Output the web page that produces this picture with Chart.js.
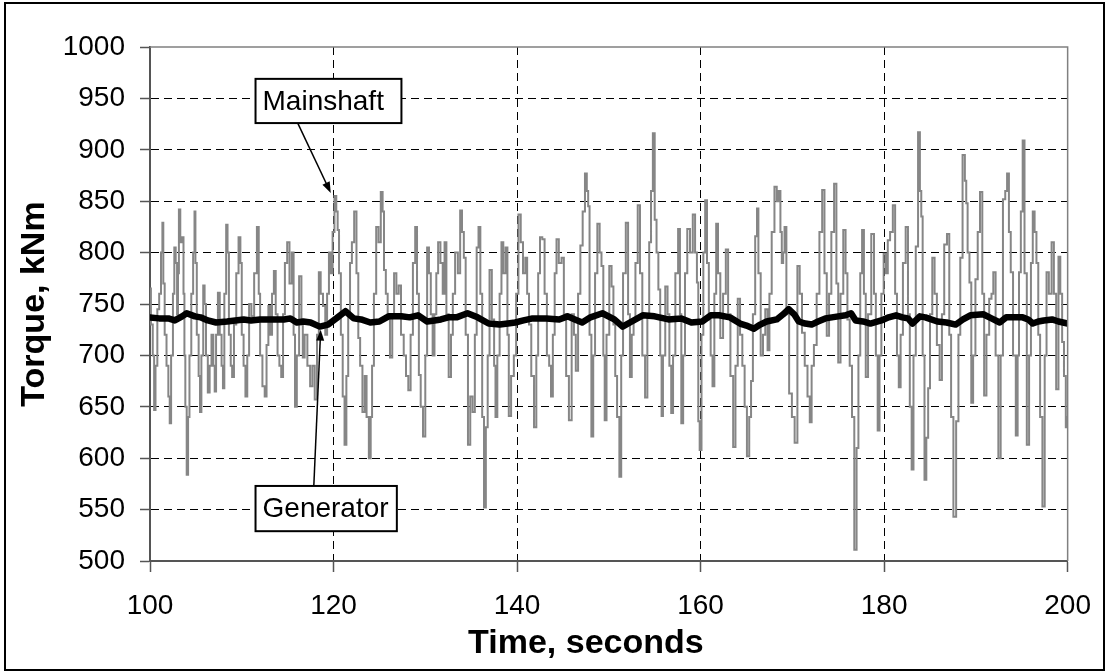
<!DOCTYPE html>
<html>
<head>
<meta charset="utf-8">
<script src="https://cdn.jsdelivr.net/npm/chart.js@4.4.0/dist/chart.umd.min.js"></script>
<style>
	html, body { margin: 0; padding: 0; background: #fff; }
	#chart-torque { display: block; }
</style>
</head>
<body>
<canvas id="chart-torque" width="1108" height="672"></canvas>
<script>
// Axis ranges / ticks
const TIME_MIN = 100, TIME_MAX = 200, TIME_STEP = 20;
const TORQUE_MIN = 500, TORQUE_MAX = 1000, TORQUE_STEP = 50;
const X_TITLE = "Time, seconds";
const Y_TITLE = "Torque, kNm";

// Mainshaft torque, [time s, torque kNm]
const MAINSHAFT = [
	[100.0, 765], [100.2, 730], [100.4, 700], [100.5, 647], [100.7, 690], [100.9, 745], [101.1, 760], [101.3, 800], [101.4, 829], [101.5, 770],
	[101.7, 720], [101.9, 690], [102.1, 660], [102.2, 634], [102.4, 700], [102.6, 760], [102.7, 805], [102.9, 790], [103.0, 740], [103.1, 780],
	[103.2, 842], [103.4, 810], [103.6, 815], [103.7, 760], [103.8, 700], [103.9, 650], [104.1, 584], [104.2, 640], [104.4, 700], [104.6, 760],
	[104.8, 800], [104.9, 840], [105.0, 790], [105.2, 720], [105.4, 680], [105.5, 645], [105.7, 700], [105.9, 768], [106.0, 750], [106.2, 700],
	[106.4, 664], [106.6, 690], [106.8, 720], [107.0, 690], [107.1, 665], [107.3, 720], [107.5, 761], [107.7, 720], [107.9, 690], [108.0, 668],
	[108.2, 760], [108.4, 827], [108.5, 800], [108.7, 720], [108.9, 690], [109.0, 679], [109.3, 730], [109.5, 780], [109.8, 815], [109.9, 790],
	[110.1, 720], [110.3, 690], [110.5, 660], [110.7, 700], [110.9, 750], [111.2, 738], [111.5, 780], [111.8, 825], [111.9, 760], [112.1, 700],
	[112.4, 670], [112.6, 660], [112.8, 710], [113.0, 748], [113.2, 720], [113.4, 760], [113.6, 782], [113.8, 740], [114.0, 700], [114.2, 690],
	[114.4, 679], [114.6, 740], [114.8, 790], [115.1, 810], [115.3, 770], [115.6, 800], [115.7, 720], [115.9, 650], [116.1, 700], [116.4, 777],
	[116.6, 730], [116.7, 698], [117.0, 720], [117.3, 690], [117.6, 670], [117.8, 690], [118.1, 657], [118.3, 720], [118.5, 781], [118.7, 760],
	[119.0, 748], [119.2, 720], [119.4, 760], [119.6, 800], [119.8, 780], [120.0, 820], [120.2, 855], [120.4, 840], [120.5, 822], [120.7, 780],
	[120.9, 720], [121.1, 660], [121.3, 613], [121.5, 680], [121.7, 740], [121.9, 790], [122.1, 810], [122.4, 840], [122.6, 780], [122.8, 717],
	[123.0, 690], [123.3, 645], [123.5, 680], [123.7, 640], [124.0, 600], [124.1, 640], [124.3, 690], [124.5, 760], [124.8, 825], [125.0, 810],
	[125.3, 859], [125.4, 840], [125.6, 783], [125.8, 760], [126.0, 738], [126.3, 698], [126.5, 740], [126.7, 780], [127.0, 760], [127.2, 768],
	[127.5, 720], [127.8, 700], [128.0, 680], [128.3, 666], [128.5, 720], [128.8, 790], [129.0, 825], [129.2, 760], [129.4, 681], [129.6, 650],
	[129.9, 621], [130.1, 700], [130.3, 805], [130.5, 780], [130.7, 740], [130.9, 700], [131.1, 740], [131.3, 780], [131.5, 810], [131.8, 790],
	[132.0, 760], [132.2, 810], [132.4, 740], [132.7, 679], [132.9, 720], [133.1, 760], [133.4, 800], [133.7, 780], [133.9, 841], [134.1, 820],
	[134.3, 795], [134.5, 720], [134.8, 613], [135.0, 660], [135.3, 645], [135.5, 720], [135.7, 805], [135.9, 825], [136.1, 760], [136.3, 640],
	[136.5, 552], [136.7, 630], [136.9, 700], [137.1, 783], [137.4, 735], [137.6, 690], [137.7, 640], [138.0, 700], [138.2, 760], [138.4, 810],
	[138.6, 780], [138.9, 805], [139.0, 720], [139.2, 641], [139.5, 680], [139.8, 700], [140.0, 760], [140.3, 837], [140.5, 810], [140.8, 780],
	[141.0, 795], [141.2, 760], [141.4, 730], [141.7, 680], [142.0, 630], [142.2, 700], [142.4, 780], [142.6, 815], [142.9, 813], [143.1, 760],
	[143.4, 700], [143.6, 690], [143.8, 660], [144.0, 720], [144.2, 780], [144.4, 813], [144.7, 790], [145.0, 795], [145.2, 740], [145.5, 680],
	[145.8, 637], [146.1, 740], [146.3, 720], [146.5, 685], [146.8, 760], [147.0, 807], [147.3, 840], [147.5, 877], [147.7, 860], [147.8, 845],
	[148.0, 720], [148.2, 621], [148.4, 700], [148.6, 780], [148.9, 828], [149.1, 800], [149.3, 787], [149.5, 700], [149.6, 637], [149.9, 720],
	[150.2, 787], [150.4, 767], [150.6, 730], [150.8, 680], [151.0, 640], [151.3, 582], [151.4, 700], [151.7, 780], [152.0, 829], [152.2, 740],
	[152.4, 679], [152.6, 720], [152.8, 735], [153.0, 790], [153.3, 846], [153.5, 780], [153.8, 700], [154.1, 659], [154.3, 740], [154.5, 810],
	[154.7, 860], [154.9, 916], [155.1, 832], [155.3, 800], [155.5, 764], [155.7, 700], [155.8, 641], [156.0, 700], [156.3, 767], [156.5, 740],
	[156.7, 690], [156.9, 644], [157.1, 700], [157.4, 780], [157.7, 823], [157.8, 740], [158.0, 634], [158.2, 700], [158.4, 780], [158.7, 823],
	[159.0, 800], [159.3, 837], [159.5, 800], [159.7, 771], [159.8, 636], [160.0, 608], [160.2, 720], [160.4, 800], [160.6, 851], [160.8, 790],
	[161.0, 735], [161.2, 700], [161.4, 670], [161.6, 760], [161.8, 828], [162.0, 780], [162.3, 717], [162.6, 760], [162.9, 803], [163.1, 740],
	[163.4, 680], [163.7, 611], [163.9, 690], [164.2, 755], [164.4, 720], [164.7, 690], [164.9, 650], [165.2, 602], [165.4, 640], [165.6, 675],
	[165.8, 740], [166.1, 816], [166.2, 843], [166.4, 780], [166.7, 700], [166.9, 720], [167.2, 745], [167.4, 705], [167.6, 760], [167.9, 820],
	[168.2, 864], [168.4, 850], [168.6, 860], [168.8, 820], [168.9, 790], [169.1, 800], [169.2, 825], [169.5, 740], [169.8, 663], [170.1, 640],
	[170.4, 615], [170.7, 787], [170.9, 760], [171.2, 722], [171.5, 690], [171.8, 660], [172.0, 635], [172.2, 690], [172.5, 710], [172.8, 760],
	[173.1, 820], [173.4, 861], [173.6, 780], [173.9, 719], [174.1, 760], [174.4, 820], [174.7, 867], [174.9, 770], [175.1, 693], [175.4, 760],
	[175.7, 822], [175.9, 780], [176.1, 735], [176.4, 690], [176.6, 640], [176.9, 511], [177.1, 610], [177.3, 700], [177.5, 780], [177.7, 822],
	[177.9, 760], [178.1, 679], [178.4, 740], [178.8, 818], [179.0, 760], [179.2, 700], [179.4, 627], [179.6, 700], [179.8, 760], [180.1, 799],
	[180.3, 780], [180.5, 812], [180.8, 820], [181.1, 846], [181.3, 760], [181.5, 700], [181.7, 669], [181.9, 720], [182.2, 790], [182.5, 825],
	[182.7, 740], [182.9, 650], [183.1, 589], [183.3, 700], [183.6, 806], [183.8, 917], [184.0, 860], [184.1, 835], [184.3, 700], [184.5, 579],
	[184.7, 620], [184.9, 668], [185.1, 740], [185.4, 795], [185.6, 760], [185.9, 710], [186.2, 676], [186.4, 740], [186.7, 808], [187.0, 818],
	[187.2, 720], [187.4, 640], [187.7, 543], [188.0, 636], [188.2, 720], [188.4, 795], [188.7, 895], [188.9, 870], [189.0, 848], [189.2, 800],
	[189.4, 771], [189.6, 654], [189.8, 700], [190.1, 774], [190.3, 820], [190.6, 859], [190.8, 760], [191.0, 661], [191.3, 720], [191.6, 755],
	[191.8, 760], [192.0, 781], [192.3, 700], [192.6, 600], [192.8, 700], [193.1, 852], [193.3, 860], [193.5, 877], [193.7, 820], [193.9, 781],
	[194.2, 700], [194.5, 622], [194.6, 700], [194.8, 781], [195.0, 840], [195.2, 909], [195.4, 780], [195.7, 613], [195.9, 700], [196.1, 790],
	[196.3, 840], [196.5, 820], [196.7, 790], [196.9, 720], [197.1, 640], [197.4, 553], [197.6, 700], [197.8, 781], [198.1, 760], [198.4, 810],
	[198.6, 760], [198.9, 667], [199.1, 796], [199.3, 760], [199.5, 713], [199.7, 680], [199.9, 630], [200.0, 640],
];

// Generator torque, [time s, torque kNm]
const GENERATOR = [
	[100, 737], [101, 736], [102, 736], [102.7, 734], [103.5, 738], [104, 741], [104.9, 738], [105.5, 737], [106.3, 734], [107.2, 732],
	[108.4, 733], [109.3, 734], [110.2, 735], [111, 734], [112, 735], [113, 735], [114.6, 735], [115.3, 736], [116, 732], [116.7, 733],
	[117.5, 732], [118.5, 728], [119.4, 730], [120.3, 736], [121.3, 743], [122.2, 736], [123, 735], [124, 732], [125, 733], [126, 738],
	[127.4, 738], [128.3, 737], [129.2, 739], [130.2, 733], [131, 734], [131.7, 735], [132.5, 737], [133.4, 737], [134.6, 741], [135.7, 737],
	[136.9, 731], [138.1, 730], [139, 731], [139.8, 732], [140.7, 734], [141.7, 736], [142.5, 736], [143.2, 736], [144.6, 735], [145.5, 738],
	[146.3, 735], [147.1, 732], [148, 737], [149.3, 741], [150.6, 735], [151.5, 728], [152.5, 733], [153.7, 739], [155, 738], [156.5, 735],
	[157.9, 736], [159, 732], [160.2, 733], [161.1, 739], [162, 739], [163.2, 737], [164.3, 731], [165, 729], [165.8, 726], [166.5, 730],
	[167.2, 733], [168.3, 735], [169, 740], [169.6, 745], [170.2, 740], [170.7, 733], [171.4, 731], [172.1, 730], [172.8, 733], [173.6, 736],
	[174.3, 737], [175, 738], [175.8, 739], [176.4, 741], [176.9, 734], [177.7, 733], [178.5, 731], [179.7, 734], [180.5, 737], [181.3, 739],
	[182, 737], [182.6, 736], [183.1, 731], [183.9, 738], [184.5, 737], [185.8, 733], [186.8, 732], [187.8, 730], [188.6, 735], [189.4, 739],
	[190.8, 740], [191.7, 736], [192.6, 732], [193.3, 737], [194.2, 737], [195.1, 737], [195.7, 735], [196.2, 731], [196.8, 733], [197.4, 734],
	[198.3, 735], [199, 733], [200, 731],
];

// Callout labels: box corners, arrow start and tip, all in [time, torque]
const CALLOUTS = [
	{ text: "Mainshaft", box: [111.5, 969, 127.4, 926], from: [116.1, 926], to: [119.7, 858] },
	{ text: "Generator", box: [111.5, 573, 126.9, 529], from: [117.85, 573], to: [118.6, 725] },
];

const FONT = "'Liberation Sans', Arial, Helvetica, sans-serif";
const toPoints = (rows) => rows.map(([x, y]) => ({ x, y }));

// frame, plot-area edge, x title and callouts
const chartDecor = {
	id: "chartDecor",
	beforeDraw(chart) {
		const { ctx, width, height } = chart;
		ctx.save();
		ctx.fillStyle = "#fff";
		ctx.fillRect(0, 0, width, height);
		ctx.restore();
	},
	afterDatasetsDraw(chart) {
		const { ctx, chartArea: area, scales: { x, y } } = chart;
		ctx.save();

		ctx.strokeStyle = "#808080";
		ctx.lineWidth = 1.5;
		ctx.beginPath();
		ctx.moveTo(area.left, area.top);
		ctx.lineTo(area.right, area.top);
		ctx.lineTo(area.right, area.bottom);
		ctx.stroke();

		// x title sits a little left of the plot centre in the original
		ctx.fillStyle = "#000";
		ctx.font = "bold 34px " + FONT;
		ctx.textAlign = "center";
		ctx.textBaseline = "middle";
		ctx.fillText(X_TITLE, x.getPixelForValue(147.5), x.bottom - 28);

		CALLOUTS.forEach((c) => {
			const x1 = x.getPixelForValue(c.box[0]), y1 = y.getPixelForValue(c.box[1]);
			const x2 = x.getPixelForValue(c.box[2]), y2 = y.getPixelForValue(c.box[3]);
			const fx = x.getPixelForValue(c.from[0]), fy = y.getPixelForValue(c.from[1]);
			const tx = x.getPixelForValue(c.to[0]), ty = y.getPixelForValue(c.to[1]);

			// arrow
			const ang = Math.atan2(ty - fy, tx - fx);
			ctx.strokeStyle = "#000";
			ctx.fillStyle = "#000";
			ctx.lineWidth = 1.5;
			ctx.beginPath();
			ctx.moveTo(fx, fy);
			ctx.lineTo(tx - 8 * Math.cos(ang), ty - 8 * Math.sin(ang));
			ctx.stroke();
			ctx.beginPath();
			ctx.moveTo(tx, ty);
			ctx.lineTo(tx - 11 * Math.cos(ang) + 4 * Math.sin(ang), ty - 11 * Math.sin(ang) - 4 * Math.cos(ang));
			ctx.lineTo(tx - 11 * Math.cos(ang) - 4 * Math.sin(ang), ty - 11 * Math.sin(ang) + 4 * Math.cos(ang));
			ctx.closePath();
			ctx.fill();

			// box
			ctx.fillStyle = "#fff";
			ctx.fillRect(x1, y1, x2 - x1, y2 - y1);
			ctx.lineWidth = 2;
			ctx.strokeRect(x1, y1, x2 - x1, y2 - y1);
			ctx.fillStyle = "#000";
			ctx.font = "28px " + FONT;
			ctx.textAlign = "left";
			ctx.textBaseline = "middle";
			ctx.fillText(c.text, x1 + 7, (y1 + y2) / 2 + 1);
		});

		// outer frame
		ctx.strokeStyle = "#000";
		ctx.lineWidth = 2;
		ctx.strokeRect(5, 3, 1099, 667);
		ctx.restore();
	},
};

const hideEdges = (lo, hi) => (c) => (c.tick && (c.tick.value === lo || c.tick.value === hi) ? "rgba(0,0,0,0)" : "#000");

const CHART_CONFIG = {
	type: "line",
	data: {
		datasets: [
			{
				label: "Generator",
				data: toPoints(GENERATOR),
				borderColor: "#000",
				borderWidth: 6.5,
				borderJoinStyle: "round",
				borderCapStyle: "round",
				pointRadius: 0,
				tension: 0,
				order: 0,
			},
			{
				label: "Mainshaft",
				data: toPoints(MAINSHAFT),
				borderColor: "#868686",
				borderWidth: 2,
				stepped: "middle",
				pointRadius: 0,
				order: 1,
			},
		],
	},
	options: {
		responsive: false,
		animation: false,
		events: [],
		devicePixelRatio: 1,
		layout: {
			padding: { left: 0, right: 28, top: 47, bottom: 0 },
		},
		scales: {
			x: {
				type: "linear",
				min: TIME_MIN,
				max: TIME_MAX,
				afterFit: (s) => { s.height = 111; },
				border: { color: "#555", width: 2, dash: [8, 5] },
				grid: {
					color: hideEdges(TIME_MIN, TIME_MAX),
					lineWidth: 1,
					tickLength: 11,
					tickColor: "#555",
					tickWidth: 1.5,
				},
				ticks: {
					stepSize: TIME_STEP,
					autoSkip: false,
					maxRotation: 0,
					padding: 17,
					color: "#000",
					font: { family: FONT, size: 28 },
				},
			},
			y: {
				min: TORQUE_MIN,
				max: TORQUE_MAX,
				afterFit: (s) => { s.width = 150; },
				border: { color: "#555", width: 2, dash: [8, 5] },
				grid: {
					color: hideEdges(TORQUE_MIN, TORQUE_MAX),
					lineWidth: 1,
					tickLength: 10,
					tickColor: "#555",
					tickWidth: 1.5,
				},
				ticks: {
					stepSize: TORQUE_STEP,
					autoSkip: false,
					padding: 15,
					color: "#000",
					font: { family: FONT, size: 28 },
					callback: (v) => String(v),
				},
				title: {
					display: true,
					text: Y_TITLE,
					color: "#000",
					font: { family: FONT, size: 34, weight: "bold" },
					padding: { top: 14, bottom: 0 },
				},
			},
		},
		plugins: {
			legend: { display: false },
			tooltip: { enabled: false },
		},
	},
	plugins: [chartDecor],
};

new Chart(document.getElementById("chart-torque"), CHART_CONFIG);
</script>
</body>
</html>
